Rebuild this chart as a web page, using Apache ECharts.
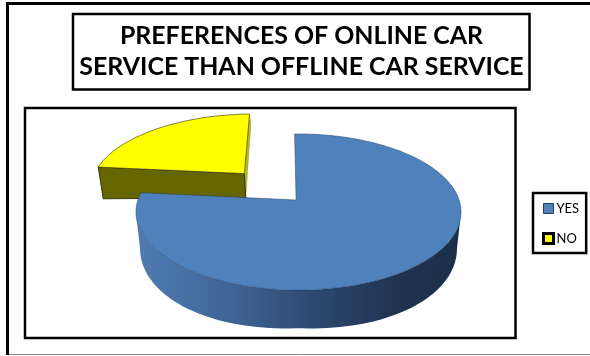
<!DOCTYPE html>
<html>
<head>
<meta charset="utf-8">
<style>html,body{margin:0;padding:0;background:#fff}#chart{width:590px;height:356px}</style>
<script src="https://cdn.jsdelivr.net/npm/echarts@6/dist/echarts.min.js"></script>
</head>
<body>
<div id="chart"></div>
<script>
// Share of respondents per answer
const categories = ['YES', 'NO'];
const shares = [77, 23];
const titleLines = ['PREFERENCES OF ONLINE CAR', 'SERVICE THAN OFFLINE CAR SERVICE'];

// Perspective model of the disc: unit circle -> screen
const rimX = 298.5, hubY = 200, scaleX = 160.6, scaleY = 76.2, persp = 0.154;
const hubOffsetX = -0.015, baseShrink = 0.975;
const startDeg = -1.6, explode = 0.5;
// Angles where the projected rim reaches its left and right extremes
const tangentRight = 99, tangentLeft = 261;

function topPoint(X, Y) {
  const w = 1 / (1 - persp * Y);
  return [rimX + scaleX * X * w, hubY + scaleY * Y * w];
}
function basePoint(X, Y) {
  const p = topPoint(X, Y);
  const depth = 25.5 + 12.5 * Y + 9 * Math.abs(X);
  return [rimX + (p[0] - rimX) * baseShrink, p[1] + depth];
}
function arcCoords(fromDeg, toDeg, dx, dy) {
  const out = [];
  const n = Math.max(2, Math.ceil(Math.abs(toDeg - fromDeg) / 2));
  for (let i = 0; i <= n; i++) {
    const a = (fromDeg + (toDeg - fromDeg) * i / n) * Math.PI / 180;
    out.push([Math.sin(a) + dx, -Math.cos(a) + dy]);
  }
  return out;
}
const total = shares.reduce((a, b) => a + b, 0);
const toTop = c => topPoint(c[0], c[1]);
const toBase = c => basePoint(c[0], c[1]);

function renderYes(params, api) {
  const sweep = api.value(0) / total * 360;
  const end = startDeg + sweep;
  const arc = arcCoords(startDeg, end, 0, 0);
  const hub = [hubOffsetX, 0];
  const top = [toTop(hub)].concat(arc.map(toTop));
  // Only the front of the outer wall can be seen, from one side tangent to the other
  const front = arcCoords(Math.max(startDeg, tangentRight), Math.min(end, tangentLeft), 0, 0);
  const wall = front.map(toTop).concat(front.slice().reverse().map(toBase));
  return { type: 'group', children: [
    { type: 'polygon', shape: { points: wall }, style: {
        fill: new echarts.graphic.LinearGradient(0, 0, 1, 0, [
          { offset: 0, color: '#4f7cb3' }, { offset: 0.3, color: '#3f6495' },
          { offset: 0.55, color: '#2c4870' }, { offset: 0.8, color: '#1f3450' },
          { offset: 1, color: '#1c2f49' }]) } },
    { type: 'polygon', shape: { points: top }, style: { fill: '#4f81bd', stroke: '#24405f', lineWidth: 0.5 } }
  ]};
}

function renderNo(params, api) {
  const sweep = api.value(0) / total * 360;
  const from = startDeg - sweep, to = startDeg;
  const mid = (from + to) / 2 * Math.PI / 180;
  const dx = Math.sin(mid) * explode, dy = -Math.cos(mid) * explode;
  const arc = arcCoords(from, to, dx, dy);
  const hub = [hubOffsetX + dx, dy];
  const first = arc[0], last = arc[arc.length - 1];
  const front = [toTop(hub), toTop(first), toBase(first), toBase(hub)];
  const side = [toTop(last), toTop(hub), toBase(hub), toBase(last)];
  const top = [toTop(hub)].concat(arc.map(toTop));
  return { type: 'group', children: [
    { type: 'polygon', shape: { points: side }, style: { fill: '#b8b820', stroke: '#8c8c20', lineWidth: 0.4 } },
    { type: 'polygon', shape: { points: front }, style: { fill: '#666600', stroke: '#1c1c00', lineWidth: 0.8 } },
    { type: 'polygon', shape: { points: top }, style: { fill: '#ffff00', stroke: '#4a4a20', lineWidth: 0.7 } }
  ]};
}

function frame(x1, y1, x2, y2, w) {
  return { type: 'rect', z: 0, shape: { x: x1, y: y1, width: x2 - x1, height: y2 - y1 },
    style: { fill: 'none', stroke: '#000', lineWidth: w } };
}
function rule(x1, y1, x2, y2, w, c) {
  return { type: 'line', z: 0, shape: { x1, y1, x2, y2 }, style: { stroke: c, lineWidth: w } };
}

const chart = echarts.init(document.getElementById('chart'), null, { renderer: 'canvas' });
chart.setOption({
  animation: false,
  backgroundColor: '#fff',
  title: {
    text: titleLines.join('\n'),
    left: 301.5, top: 20, textAlign: 'center', padding: 0,
    textStyle: { fontFamily: 'Lato', fontWeight: 'bold', fontSize: 24.9, lineHeight: 31.5, color: '#000' }
  },
  legend: {
    data: [
      { name: categories[0], icon: 'rect', itemStyle: { color: '#4f81bd', borderColor: '#24405f', borderWidth: 1 } },
      { name: categories[1], icon: 'rect', itemStyle: { color: '#ffff00', borderColor: '#000', borderWidth: 3 } }
    ],
    orient: 'vertical',
    left: 533, top: 193,
    padding: [9, 7, 8, 9],
    itemWidth: 10, itemHeight: 10, itemGap: 17,
    borderColor: '#000', borderWidth: 2.5,
    textStyle: { fontFamily: 'Lato', fontSize: 13, color: '#000', padding: [0, 0, 0, -2] }
  },
  graphic: [
    rule(7.5, 3.5, 590, 3.5, 3, '#000'),
    rule(7.5, 2, 7.5, 355, 3, '#000'),
    rule(9, 354.5, 590, 354.5, 1, '#8a8a8a'),
    frame(73, 14, 529.5, 89.5, 2.5),
    frame(25, 108, 515.5, 338, 2.5)
  ],
  series: [
    { type: 'custom', name: 'NO', coordinateSystem: 'none', z: 2, renderItem: renderNo,
      itemStyle: { color: '#ffff00' }, data: [[shares[1]]] },
    { type: 'custom', name: 'YES', coordinateSystem: 'none', z: 3, renderItem: renderYes,
      itemStyle: { color: '#4f81bd' }, data: [[shares[0]]] }
  ]
});
</script>
</body>
</html>
